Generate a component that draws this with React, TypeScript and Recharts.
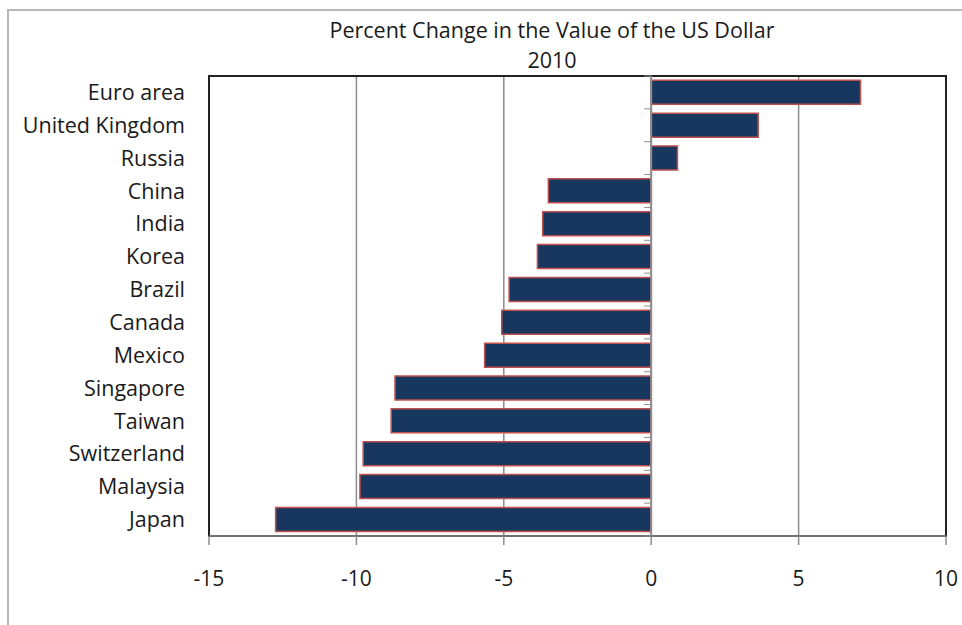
import { BarChart, Bar, XAxis, YAxis, CartesianGrid, ReferenceLine, ReferenceArea } from "recharts";

const countries = [
  "Euro area",
  "United Kingdom",
  "Russia",
  "China",
  "India",
  "Korea",
  "Brazil",
  "Canada",
  "Mexico",
  "Singapore",
  "Taiwan",
  "Switzerland",
  "Malaysia",
  "Japan",
];
const changes = [7.1, 3.63, 0.89, -3.49, -3.68, -3.86, -4.82, -5.07, -5.65, -8.69, -8.82, -9.77, -9.88, -12.74];
const xTicks = [-15, -10, -5, 0, 5, 10];
const title = "Percent Change in the Value of the US Dollar";
const subtitle = "2010";

const W = 962;
const H = 625;
const M = { top: 76, right: 16, left: 0, bottom: 39 };
const Y_W = 209;
const X_H = 50;
const FONT = "'Open Sans', 'Noto Sans', sans-serif";

const data = countries.map((name, i) => ({ name, value: changes[i] }));

// plot box, used only to place the small category ticks on the zero line
const plotLeft = M.left + Y_W;
const plotW = W - M.right - plotLeft;
const plotTop = M.top;
const plotH = H - M.bottom - X_H - plotTop;
const zeroX = plotLeft + (plotW * (0 - xTicks[0])) / (xTicks[xTicks.length - 1] - xTicks[0]);
const band = plotH / countries.length;

function CountryTick(props: any) {
  const { x, y, payload, index } = props;
  const top = y - band / 2;
  return (
    <g>
      <text x={x} y={y} dy="0.35em" textAnchor="end" fontSize={21.5} fill="#1a1a1a" fontFamily={FONT}>
        {payload.value}
      </text>
      <line x1={zeroX - 7} x2={zeroX} y1={top} y2={top} stroke="#8c8c8c" />
      {index === countries.length - 1 && (
        <line x1={zeroX - 7} x2={zeroX} y1={top + band} y2={top + band} stroke="#8c8c8c" />
      )}
    </g>
  );
}

export default function App() {
  return (
    <div style={{ position: "absolute", left: 0, top: 0, width: W, height: H }}>
      <div
        style={{
          position: "absolute",
          left: 7,
          top: 9,
          width: W - 7,
          height: H - 9,
          borderTop: "2px solid #b8b8b8",
          borderLeft: "2px solid #b8b8b8",
          boxSizing: "border-box",
        }}
      />
      <div
        style={{
          position: "absolute",
          left: 0,
          width: W,
          top: 15,
          textAlign: "center",
          fontFamily: FONT,
          fontSize: 21.5,
          lineHeight: "30px",
          color: "#1a1a1a",
          paddingLeft: 142,
          boxSizing: "border-box",
        }}
      >
        <div>{title}</div>
        <div>{subtitle}</div>
      </div>
      <div style={{ position: "absolute", left: 0, top: 0 }}>
        <BarChart
          width={W}
          height={H}
          data={data}
          layout="vertical"
          margin={M}
          barCategoryGap="13%"
        >
          <CartesianGrid horizontal={false} stroke="#8c8c8c" strokeWidth={1.5} />
          <ReferenceArea x1={-15} x2={10} fill="none" stroke="#222" strokeWidth={2} ifOverflow="extendDomain" />
          <XAxis
            type="number"
            domain={[-15, 10]}
            ticks={xTicks}
            height={X_H}
            stroke="#8c8c8c"
            strokeWidth={1.5}
            tickSize={9}
            tickMargin={26}
            tick={{ fill: "#1a1a1a", fontSize: 21, fontFamily: FONT }}
          />
          <YAxis
            type="category"
            dataKey="name"
            width={Y_W}
            axisLine={false}
            tickLine={false}
            tickSize={0}
            tickMargin={24}
            interval={0}
            tick={<CountryTick />}
          />
          <ReferenceLine x={0} stroke="#8c8c8c" strokeWidth={2} />
          <Bar dataKey="value" fill="#17375e" stroke="#c0504d" strokeWidth={1.5} isAnimationActive={false} />
        </BarChart>
      </div>
    </div>
  );
}
